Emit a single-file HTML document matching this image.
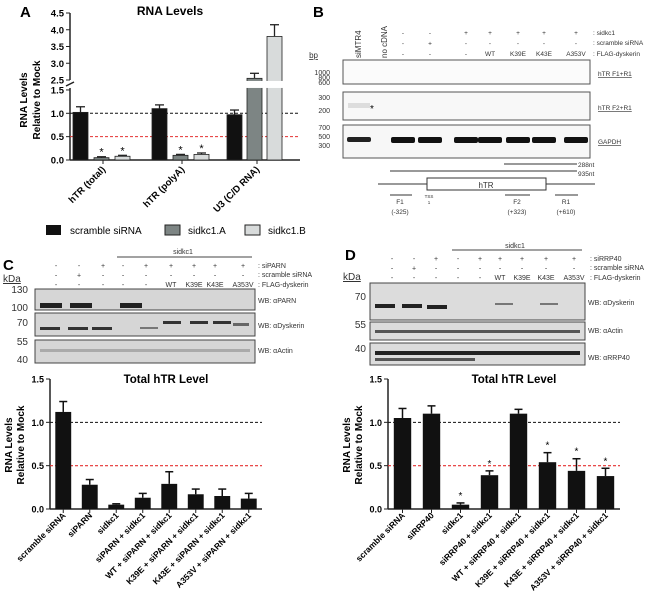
<!DOCTYPE html>
<html><head><meta charset="utf-8"><style>
body{margin:0;background:#fff}
svg{font-family:"Liberation Sans",sans-serif}
.b{font-weight:bold}
</style></head><body>
<svg id="s" width="661" height="610" viewBox="0 0 661 610">
<!-- Panel A -->
<text x="20" y="17" font-size="15" class="b">A</text>
<text x="170" y="15" font-size="12" class="b" text-anchor="middle">RNA Levels</text>
<text transform="translate(27,100) rotate(-90)" font-size="10" class="b" text-anchor="middle">RNA Levels</text>
<text transform="translate(40,100) rotate(-90)" font-size="10" class="b" text-anchor="middle">Relative to Mock</text>
<g id="gA"></g>
<g>
<rect x="46" y="225" width="15" height="10" fill="#111"/>
<text x="70" y="234" font-size="10">scramble siRNA</text>
<rect x="165" y="225" width="15" height="10" fill="#7d8584" stroke="#222"/>
<text x="188" y="234" font-size="10">sidkc1.A</text>
<rect x="245" y="225" width="15" height="10" fill="#d8dbdb" stroke="#222"/>
<text x="268" y="234" font-size="10">sidkc1.B</text>
</g>
<!-- Panel B -->
<text x="313" y="17" font-size="15" class="b">B</text>
<g font-size="6.5" fill="#333">
<text transform="translate(361,58) rotate(-90)" font-size="8">siMTR4</text>
<text transform="translate(387,58) rotate(-90)" font-size="8">no cDNA</text>
<g id="bHead"></g>
<text x="593" y="35">: sidkc1</text><text x="593" y="45">: scramble siRNA</text><text x="593" y="56">: FLAG-dyskerin</text>
</g>
<g font-size="7" fill="#333" text-anchor="end">
<text x="318" y="58" text-decoration="underline" font-size="8">bp</text>
<text x="330" y="75">1000</text><text x="330" y="80">800</text><text x="330" y="85">600</text>
<text x="330" y="100">300</text><text x="330" y="113">200</text>
<text x="330" y="130">700</text><text x="330" y="139">500</text><text x="330" y="148">300</text>
</g>
<rect x="343" y="60" width="247" height="24" fill="#fbfbfb" stroke="#555"/>
<rect x="343" y="92" width="247" height="28" fill="#f8f8f8" stroke="#555"/>
<rect x="343" y="125" width="247" height="33" fill="#f7f7f7" stroke="#555"/>
<rect x="348" y="103" width="22" height="5" fill="#ddd"/>
<text x="370" y="112" font-size="10">*</text>
<g id="gapdh"></g>
<g font-size="6.5" fill="#333">
<text x="598" y="76" text-decoration="underline">hTR F1+R1</text>
<text x="598" y="110" text-decoration="underline">hTR F2+R1</text>
<text x="598" y="144" text-decoration="underline">GAPDH</text>
</g>
<g stroke="#333" fill="none">
<line x1="504" y1="164" x2="577" y2="164"/><line x1="390" y1="171" x2="577" y2="171"/>
<line x1="378" y1="184" x2="427" y2="184"/><line x1="546" y1="184" x2="595" y2="184"/>
<rect x="427" y="178" width="119" height="12" fill="#fff"/>
<line x1="390" y1="195" x2="412" y2="195"/><line x1="505" y1="195" x2="530" y2="195"/><line x1="555" y1="195" x2="578" y2="195"/>
</g>
<g font-size="6.5" fill="#333">
<text x="578" y="167">288nt</text><text x="578" y="176">935nt</text>
<text x="486" y="188" text-anchor="middle" font-size="8">hTR</text>
<text x="400" y="204" text-anchor="middle">F1</text><text x="400" y="214" text-anchor="middle">(-325)</text>
<text x="429" y="198" text-anchor="middle" font-size="4.5">TSS</text><text x="429" y="204" text-anchor="middle" font-size="4.5">1</text>
<text x="517" y="204" text-anchor="middle">F2</text><text x="517" y="214" text-anchor="middle">(+323)</text>
<text x="566" y="204" text-anchor="middle">R1</text><text x="566" y="214" text-anchor="middle">(+610)</text>
</g>
<!-- Panel C -->
<text x="3" y="270" font-size="15" class="b">C</text>
<g id="cHead" font-size="7" fill="#333">
<text x="183" y="254" text-anchor="middle">sidkc1</text>
<line x1="117" y1="257" x2="252" y2="257" stroke="#444"/>
<text x="258" y="268">: siPARN</text><text x="258" y="277">: scramble siRNA</text><text x="258" y="287">: FLAG-dyskerin</text>
<text x="3" y="282" font-size="10" text-decoration="underline">kDa</text>
</g>
<rect x="35" y="289" width="220" height="21" fill="#d6d6d6" stroke="#444"/>
<rect x="35" y="313" width="220" height="23" fill="#d6d6d6" stroke="#444"/>
<rect x="35" y="340" width="220" height="23" fill="#d6d6d6" stroke="#444"/>
<g fill="#333">
<rect x="40" y="303" width="22" height="5" fill="#222"/><rect x="70" y="303" width="22" height="5" fill="#222"/><rect x="120" y="303" width="22" height="5" fill="#222"/>
<rect x="40" y="327" width="20" height="3"/><rect x="68" y="327" width="20" height="3"/><rect x="92" y="327" width="20" height="3"/>
<rect x="140" y="327" width="18" height="2" fill="#777"/><rect x="163" y="321" width="18" height="3"/><rect x="190" y="321" width="18" height="3"/><rect x="213" y="321" width="18" height="3"/><rect x="233" y="323" width="16" height="3" fill="#666"/>
<rect x="40" y="349" width="210" height="3" fill="#aaa"/>
</g>
<g font-size="10" fill="#333" text-anchor="end">
<text x="28" y="293">130</text><text x="28" y="311">100</text><text x="28" y="326">70</text><text x="28" y="345">55</text><text x="28" y="363">40</text>
</g>
<g font-size="7" fill="#333">
<text x="258" y="303">WB: αPARN</text><text x="258" y="328">WB: αDyskerin</text><text x="258" y="353">WB: αActin</text>
</g>
<g id="gC"></g>
<!-- Panel D -->
<text x="345" y="260" font-size="15" class="b">D</text>
<g id="dHead" font-size="7" fill="#333">
<text x="515" y="248" text-anchor="middle">sidkc1</text>
<line x1="452" y1="250" x2="582" y2="250" stroke="#444"/>
<text x="590" y="261">: siRRP40</text><text x="590" y="270">: scramble siRNA</text><text x="590" y="280">: FLAG-dyskerin</text>
<text x="343" y="280" font-size="10" text-decoration="underline">kDa</text>
</g>
<rect x="370" y="283" width="215" height="37" fill="#dcdcdc" stroke="#444"/>
<rect x="370" y="322" width="215" height="18" fill="#dcdcdc" stroke="#444"/>
<rect x="370" y="343" width="215" height="22" fill="#dcdcdc" stroke="#444"/>
<g fill="#222">
<rect x="375" y="304" width="20" height="4"/><rect x="402" y="304" width="20" height="4"/><rect x="427" y="305" width="20" height="4"/>
<rect x="495" y="303" width="18" height="2" fill="#777"/><rect x="540" y="303" width="18" height="2" fill="#777"/>
<rect x="375" y="330" width="205" height="3" fill="#555"/>
<rect x="375" y="351" width="205" height="4"/><rect x="375" y="358" width="100" height="3" fill="#555"/>
</g>
<g font-size="10" fill="#333" text-anchor="end">
<text x="366" y="300">70</text><text x="366" y="328">55</text><text x="366" y="352">40</text>
</g>
<g font-size="7" fill="#333">
<text x="588" y="305">WB: αDyskerin</text><text x="588" y="333">WB: αActin</text><text x="588" y="360">WB: αRRP40</text>
</g>
<g id="gD"></g>
</svg>
<script>
const NS='http://www.w3.org/2000/svg';
function mk(p,t,a,txt){const e=document.createElementNS(NS,t);for(const k in a)e.setAttribute(k,a[k]);if(txt!==undefined)e.textContent=txt;p.appendChild(e);return e;}

// Panel A data
const aCategories=['hTR (total)','hTR (polyA)','U3 (C/D RNA)'];
const aScramble=[1.02,1.1,0.97];
const aSidkc1A=[0.05,0.1,2.55];
const aSidkc1B=[0.08,0.12,3.8];
const aErrScramble=[0.12,0.08,0.1];
const aErrA=[0.02,0.02,0.15];
const aErrB=[0.02,0.03,0.35];
const aLowTicks=['0.0','0.5','1.0','1.5'];
const aHighTicks=['2.5','3.0','3.5','4.0','4.5'];
const aStars=[[false,true,true],[false,true,true],[false,false,false]];

function yA(v){return v<=1.5?160-v*46.7:80-(v-2.5)*33.5;}
(function(){
 const g=document.getElementById('gA');
 mk(g,'line',{x1:70,y1:160,x2:300,y2:160,stroke:'#222','stroke-width':1.5});
 mk(g,'line',{x1:70,y1:160,x2:70,y2:88,stroke:'#222','stroke-width':1.5});
 mk(g,'line',{x1:70,y1:80,x2:70,y2:13,stroke:'#222','stroke-width':1.5});
 mk(g,'line',{x1:66,y1:86,x2:74,y2:82,stroke:'#222','stroke-width':1.5});
 aLowTicks.concat(aHighTicks).forEach(t=>{const y=yA(+t);
  mk(g,'line',{x1:66,y1:y,x2:70,y2:y,stroke:'#222'});
  const e=mk(g,'text',{x:64,y:y+3.5,'font-size':9.5,'font-weight':'bold','text-anchor':'end'},t);
  });
 mk(g,'line',{x1:70,y1:yA(1),x2:300,y2:yA(1),stroke:'#111','stroke-dasharray':'3,2'});
 mk(g,'line',{x1:70,y1:yA(0.5),x2:300,y2:yA(0.5),stroke:'#e53030','stroke-dasharray':'3,2'});
 const groupX=[73,152,227],step=[0,21,42];
 const fills=['#111','#7d8584','#d8dbdb'];
 const series=[aScramble,aSidkc1A,aSidkc1B],errs=[aErrScramble,aErrA,aErrB];
 aCategories.forEach((c,i)=>{
  series.forEach((s,j)=>{
   const x=groupX[i]+step[j]+(i==2?j*-1:0),w=15,v=s[i];
   const top=yA(v);
   const b=mk(g,'rect',{x:x,y:top,width:w,height:160-top,fill:fills[j],stroke:'#222','stroke-width':0.8});
   
   if(v>1.5){mk(g,'rect',{x:x-1,y:yA(1.5)-9,width:w+2,height:7,fill:'#fff'});}
   const ey=yA(v+errs[j][i]);
   mk(g,'line',{x1:x+w/2,y1:top,x2:x+w/2,y2:ey,stroke:'#222','stroke-width':1.3});
   mk(g,'line',{x1:x+3,y1:ey,x2:x+w-3,y2:ey,stroke:'#222','stroke-width':1.3});
   if(aStars[i][j]){const st=mk(g,'text',{x:x+w/2,y:ey-1,'font-size':11,'text-anchor':'middle'},'*');
    }
  });
  const cx=groupX[i]+30;
  mk(g,'line',{x1:cx,y1:160,x2:cx,y2:164,stroke:'#222'});
  const l=mk(g,'text',{transform:`translate(${cx+3},170) rotate(-45)`,'font-size':9.5,'font-weight':'bold','text-anchor':'end'},c);
  
 });
})();

// Panel B header +/- rows
(function(){
 const g=document.getElementById('bHead');
 const rows=[['-','-','+','+','+','+','+'],['-','+','-','-','-','-','-'],['-','-','-','WT','K39E','K43E','A353V']];
 const x0=[403,430,466,490,518,544,576];
 rows.forEach((r,ri)=>{r.forEach((t,k)=>{mk(g,'text',{x:x0[k],y:35+ri*10.5,'text-anchor':'middle'},t);});});
 const gg=document.getElementById('gapdh');
 mk(gg,'rect',{x:347,y:137,width:24,height:5,fill:'#222',rx:2});
 x0.forEach(x=>mk(gg,'rect',{x:x-12,y:137,width:24,height:6,fill:'#111',rx:2}));
})();

// Panel C/D header rows
function header(id,xs,labels,y0){
 const g=document.getElementById(id);
 labels.forEach((r,ri)=>r.forEach((t,k)=>mk(g,'text',{x:xs[k],y:y0+ri*9.5,'text-anchor':'middle'},t)));
}
header('cHead',[56,79,103,123,146,171,194,215,243],
 [['-','-','+','-','+','+','+','+','+'],['-','+','-','-','-','-','-','-','-'],['-','-','-','-','-','WT','K39E','K43E','A353V']],268);
header('dHead',[392,414,436,458,480,500,522,546,574],
 [['-','-','+','-','+','+','+','+','+'],['-','+','-','-','-','-','-','-','-'],['-','-','-','-','-','WT','K39E','K43E','A353V']],261);

// Panel C data
const cCategories=['scramble siRNA','siPARN','sidkc1','siPARN + sidkc1','WT + siPARN + sidkc1','K39E + siPARN + sidkc1','K43E + siPARN + sidkc1','A353V + siPARN + sidkc1'];
const cValues=[1.12,0.28,0.05,0.13,0.29,0.17,0.15,0.12];
const cErrors=[0.12,0.06,0.01,0.05,0.14,0.06,0.08,0.06];
const cStars=[false,false,false,false,false,false,false,false];
// Panel D data
const dCategories=['scramble siRNA','siRRP40','sidkc1','siRRP40 + sidkc1','WT + siRRP40 + sidkc1','K39E + siRRP40 + sidkc1','K43E + siRRP40 + sidkc1','A353V + siRRP40 + sidkc1'];
const dValues=[1.05,1.1,0.05,0.39,1.1,0.54,0.44,0.38];
const dErrors=[0.11,0.09,0.02,0.05,0.05,0.11,0.14,0.09];
const dStars=[false,false,true,true,false,true,true,true];
const hTicks=['0.0','0.5','1.0','1.5'];

function bottomChart(id,x0,x1,cats,vals,errs,stars,pfx){
 const g=document.getElementById(id);
 const y0=509,yTop=379;
 const y=v=>y0-v/1.5*(y0-yTop);
 const band=(x1-x0)/cats.length;
 const xc=i=>x0+band*(i+0.5);
 mk(g,'text',{x:(x0+x1)/2+10,y:383,'font-size':11.5,'font-weight':'bold','text-anchor':'middle'},'Total hTR Level');
 mk(g,'text',{transform:`translate(${x0-38},445) rotate(-90)`,'font-size':10,'font-weight':'bold','text-anchor':'middle'},'RNA Levels');
 mk(g,'text',{transform:`translate(${x0-26},445) rotate(-90)`,'font-size':10,'font-weight':'bold','text-anchor':'middle'},'Relative to Mock');
 mk(g,'line',{x1:x0,y1:y0,x2:x1,y2:y0,stroke:'#222','stroke-width':1.5});
 mk(g,'line',{x1:x0,y1:y0,x2:x0,y2:yTop,stroke:'#222','stroke-width':1.5});
 hTicks.forEach(t=>{const yy=y(+t);
  mk(g,'line',{x1:x0-4,y1:yy,x2:x0,y2:yy,stroke:'#222'});
  const e=mk(g,'text',{x:x0-6,y:yy+3.5,'font-size':9,'font-weight':'bold','text-anchor':'end'},t);
  });
 mk(g,'line',{x1:x0,y1:y(1),x2:x1,y2:y(1),stroke:'#111','stroke-dasharray':'3,2'});
 mk(g,'line',{x1:x0,y1:y(0.5),x2:x1,y2:y(0.5),stroke:'#e53030','stroke-dasharray':'3,2','stroke-width':1.2});
 cats.forEach((c,i)=>{
  const w=band*0.6,x=xc(i)-w/2,top=y(vals[i]);
  const b=mk(g,'rect',{x:x,y:top,width:w,height:y0-top,fill:'#111'});
  
  const ey=y(vals[i]+errs[i]);
  mk(g,'line',{x1:xc(i),y1:top,x2:xc(i),y2:ey,stroke:'#111','stroke-width':1.5});
  mk(g,'line',{x1:xc(i)-4,y1:ey,x2:xc(i)+4,y2:ey,stroke:'#111','stroke-width':1.5});
  if(stars[i]){const s=mk(g,'text',{x:xc(i),y:ey-4,'font-size':10,'text-anchor':'middle'},'*');
   }
  mk(g,'line',{x1:xc(i),y1:y0,x2:xc(i),y2:y0+4,stroke:'#222'});
  const l=mk(g,'text',{transform:`translate(${xc(i)+3},516) rotate(-45)`,'font-size':8.5,'font-weight':'bold','text-anchor':'end'},c);
  
 });
}
bottomChart('gC',50,262,cCategories,cValues,cErrors,cStars,'c');
bottomChart('gD',388,620,dCategories,dValues,dErrors,dStars,'d');
</script>
</body></html>
